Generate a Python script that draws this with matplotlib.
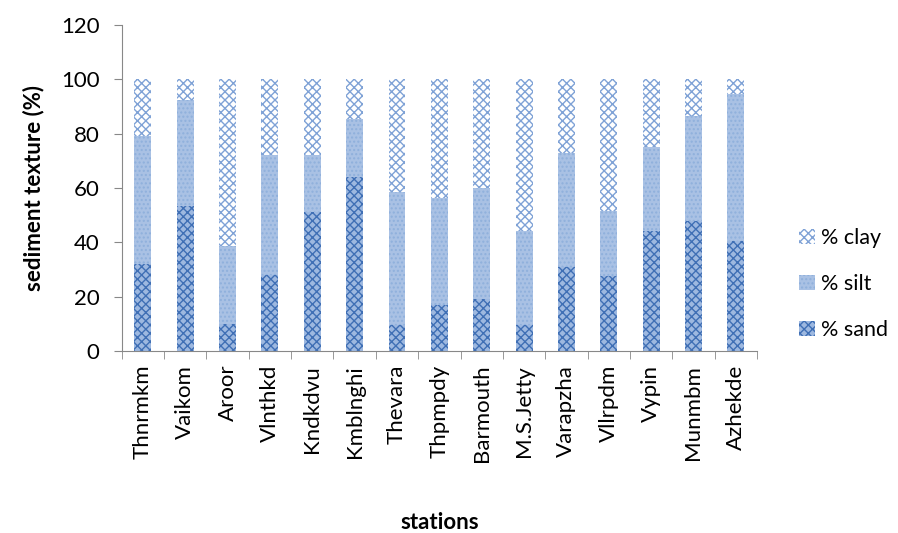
import numpy as np
import matplotlib.pyplot as plt

plt.rcParams['font.family'] = ['Lato', 'DejaVu Sans']
plt.rcParams['hatch.linewidth'] = 1.0

stations = ["Thnrmkm", "Vaikom", "Aroor", "Vlnthkd", "Kndkdvu", "Kmblnghi", "Thevara",
            "Thpmpdy", "Barmouth", "M.S.Jetty", "Varapzha", "Vllrpdm", "Vypin", "Munmbm", "Azhekde"]
sand = [32, 53.5, 10, 28, 51, 64, 9.5, 17, 19, 9.5, 31, 27.5, 44, 48, 40.5]
silt = [47, 39, 28.5, 44, 21, 21.5, 49, 39.5, 41, 34.5, 42, 24, 31, 38.5, 54]
clay = [100 - a - b for a, b in zip(sand, silt)]

x = np.arange(len(stations))
w = 0.4
fs = 16

fig = plt.figure(figsize=(8.98, 5.33), dpi=100)
ax = fig.add_axes([0.1355, 0.3415, 0.7075, 0.6115])

b1 = ax.bar(x, sand, w, color='#9db8e0', edgecolor='#3f6fb5', hatch='xxxx', linewidth=0, label='% sand')
b2 = ax.bar(x, silt, w, bottom=sand, color='#a9c1e4', edgecolor='#8fb0dc', hatch='....', linewidth=0, label='% silt')
bottom2 = [a + b for a, b in zip(sand, silt)]
b3 = ax.bar(x, clay, w, bottom=bottom2, color='white', edgecolor='#7fa2d6', hatch='xxxx', linewidth=0, label='% clay')

ax.set_xlim(-0.5, len(stations) - 0.5)
ax.set_ylim(0, 120)
ax.set_yticks(range(0, 121, 20))
ax.set_xticks(x)
ax.set_xticklabels(stations, rotation=90, fontsize=fs)
ax.set_xticks(np.arange(-0.5, len(stations), 1), minor=True)
ax.tick_params(axis='x', which='major', length=0, pad=10)
ax.tick_params(axis='x', which='minor', length=6, color='#888888')
ax.tick_params(axis='y', length=6, color='#888888', labelsize=fs, pad=10)

for s in ['top', 'right']:
    ax.spines[s].set_visible(False)
for s in ['left', 'bottom']:
    ax.spines[s].set_color('#888888')

ax.set_ylabel('sediment texture (%)', fontsize=fs, fontweight='bold', labelpad=12)
ax.set_xlabel('stations', fontsize=fs, fontweight='bold', labelpad=36)

ax.legend(handles=[b3, b2, b1], loc='center left', bbox_to_anchor=(1.06, 0.205),
          frameon=False, fontsize=15.5, handlelength=0.7, handleheight=0.7,
          labelspacing=1.2, handletextpad=0.3, borderaxespad=0, borderpad=0.2)

fig.savefig('out.png', dpi=100)
